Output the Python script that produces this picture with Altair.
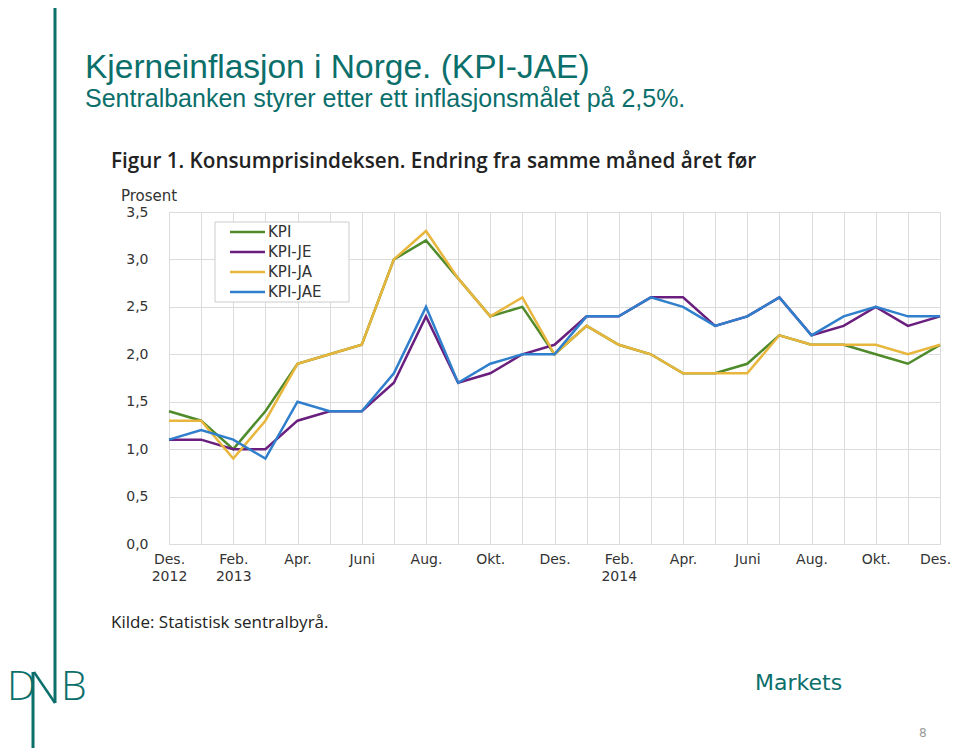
import altair as alt
import pandas as pd

# ---------------- data ----------------
months = ["2012-12", "2013-01", "2013-02", "2013-03", "2013-04", "2013-05", "2013-06",
          "2013-07", "2013-08", "2013-09", "2013-10", "2013-11", "2013-12",
          "2014-01", "2014-02", "2014-03", "2014-04", "2014-05", "2014-06",
          "2014-07", "2014-08", "2014-09", "2014-10", "2014-11", "2014-12"]

kpi     = [1.4, 1.3, 1.0, 1.4, 1.9, 2.0, 2.1, 3.0, 3.2, 2.8, 2.4, 2.5, 2.0,
           2.3, 2.1, 2.0, 1.8, 1.8, 1.9, 2.2, 2.1, 2.1, 2.0, 1.9, 2.1]
kpi_je  = [1.1, 1.1, 1.0, 1.0, 1.3, 1.4, 1.4, 1.7, 2.4, 1.7, 1.8, 2.0, 2.1,
           2.4, 2.4, 2.6, 2.6, 2.3, 2.4, 2.6, 2.2, 2.3, 2.5, 2.3, 2.4]
kpi_ja  = [1.3, 1.3, 0.9, 1.3, 1.9, 2.0, 2.1, 3.0, 3.3, 2.8, 2.4, 2.6, 2.0,
           2.3, 2.1, 2.0, 1.8, 1.8, 1.8, 2.2, 2.1, 2.1, 2.1, 2.0, 2.1]
kpi_jae = [1.1, 1.2, 1.1, 0.9, 1.5, 1.4, 1.4, 1.8, 2.5, 1.7, 1.9, 2.0, 2.0,
           2.4, 2.4, 2.6, 2.5, 2.3, 2.4, 2.6, 2.2, 2.4, 2.5, 2.4, 2.4]

series_names = ["KPI", "KPI-JE", "KPI-JA", "KPI-JAE"]
series_colors = ["#4f8a2b", "#6a1f7e", "#e8b63c", "#2f7fcc"]

y_ticks = [0.0, 0.5, 1.0, 1.5, 2.0, 2.5, 3.0, 3.5]

x_tick_text = {
    "2012-12": ["Des.", "2012"],
    "2013-02": ["Feb.", "2013"],
    "2013-04": ["Apr."],
    "2013-06": ["Juni"],
    "2013-08": ["Aug."],
    "2013-10": ["Okt."],
    "2013-12": ["Des."],
    "2014-02": ["Feb.", "2014"],
    "2014-04": ["Apr."],
    "2014-06": ["Juni"],
    "2014-08": ["Aug."],
    "2014-10": ["Okt."],
    "2014-12": ["Des."],
}

slide_title = "Kjerneinflasjon i Norge. (KPI-JAE)"
slide_subtitle = "Sentralbanken styrer etter ett inflasjonsmålet på 2,5%."
fig_title = "Figur 1. Konsumprisindeksen. Endring fra samme måned året før"
y_unit = "Prosent"
source = "Kilde: Statistisk sentralbyrå."
footer_right = "Markets"
page_no = "8"

# ---------------- build ----------------
rows = []
for name, vals in zip(series_names, [kpi, kpi_je, kpi_ja, kpi_jae]):
    for m, v in zip(months, vals):
        rows.append({"month": m, "series": name, "value": v})
df = pd.DataFrame(rows)
legend_df = pd.DataFrame({"series": series_names})

expr_parts = []
for k, v in x_tick_text.items():
    arr = "[" + ", ".join("'" + s + "'" for s in v) + "]"
    expr_parts.append("datum.value == '" + k + "' ? " + arr + " : ")
x_label_expr = "".join(expr_parts) + "''"

AX_FONT = "DejaVu Sans"
TEAL = "#0b6f6b"
GRID = "#dcdcdc"

color_scale = alt.Scale(domain=series_names, range=series_colors)

lines = alt.Chart(df).mark_line(strokeWidth=2.5).encode(
    x=alt.X("month:O", sort=months,
            scale=alt.Scale(type="point", padding=0, domain=months),
            axis=alt.Axis(title=None, grid=True, gridColor=GRID, ticks=False, domain=False,
                          labelAngle=0, labelExpr=x_label_expr, labelOverlap=False,
                          labelFont=AX_FONT, labelFontSize=14, labelColor="#333333",
                          labelPadding=8, labelLineHeight=17, labelBaseline="top",
                          labelOffset={"condition": {"test": "datum.value == '2014-12'", "value": -5},
                                       "value": 0})),
    y=alt.Y("value:Q", scale=alt.Scale(domain=[0, 3.5], nice=False, zero=True),
            axis=alt.Axis(title=None, values=y_ticks, grid=True, gridColor=GRID,
                          ticks=False, domain=False,
                          labelExpr="replace(format(datum.value, '.1f'), '.', ',')",
                          labelFont=AX_FONT, labelFontSize=14, labelColor="#333333",
                          labelPadding=21)),
    color=alt.Color("series:N", sort=series_names, scale=color_scale, legend=None),
)

# legend drawn from the series list through a point scale
leg_y = alt.Y("series:N", sort=series_names,
              scale=alt.Scale(type="point", domain=series_names, range=[20, 80], padding=0),
              axis=None)
legend_lines = alt.Chart(legend_df).mark_rule(strokeWidth=2.5).encode(
    x=alt.value(61), x2=alt.value(96), y=leg_y,
    color=alt.Color("series:N", scale=color_scale, legend=None))
legend_text = alt.Chart(legend_df).mark_text(
    align="left", baseline="middle", font=AX_FONT, fontSize=15, color="#333333"
).encode(x=alt.value(99), y=leg_y, text="series:N")

one = alt.Data(values=[{}])


def txt(text, x, y, size, font, color, weight="normal", align="left", baseline="middle"):
    return alt.Chart(one).mark_text(
        text=text, align=align, baseline=baseline, fontSize=size, font=font,
        color=color, fontWeight=weight
    ).encode(x=alt.value(x), y=alt.value(y))


def rule(x1, y1, x2, y2, color=TEAL, width=3):
    return alt.Chart(one).mark_rule(color=color, strokeWidth=width).encode(
        x=alt.value(x1), y=alt.value(y1), x2=alt.value(x2), y2=alt.value(y2))


legend_box = alt.Chart(one).mark_rect(fill="white", stroke="#cccccc", strokeWidth=1).encode(
    x=alt.value(46), x2=alt.value(180), y=alt.value(10), y2=alt.value(90))

layers = [
    legend_box,
    lines,
    legend_lines,
    legend_text,
    txt(slide_title, -84, -134, 33.5, "Liberation Sans", TEAL, baseline="alphabetic"),
    txt(slide_subtitle, -84, -105, 25, "Liberation Sans", TEAL, baseline="alphabetic"),
    txt(fig_title, -58, -50, 20.7, "Open Sans", "#222222", weight=600),
    txt(y_unit, -48, -16, 15, AX_FONT, "#333333"),
    txt(source, -58, 411, 17, "Open Sans", "#222222"),
    txt(footer_right, 586, 471, 22, "DejaVu Sans", TEAL),
    txt(page_no, 750, 521, 12, "DejaVu Sans", "#999999"),
    txt("D", -162, 476, 41, "Open Sans", TEAL, weight=300),
    txt("B", -108, 476, 41, "Open Sans", TEAL, weight=300),
    rule(-114, -212, -114, 491),
    rule(-136, 460, -136, 540),
    rule(-135, 460, -114, 491, width=2.5),
]

chart = alt.layer(*layers).resolve_scale(y="independent").properties(
    width=771, height=332,
    autosize=alt.AutoSizeParams(type="none"),
    padding={"left": 161, "top": 204, "right": 12, "bottom": 204},
).configure_view(strokeWidth=0).configure(background="white")

chart.save("out.html", embed_options={"renderer": "svg", "actions": False})
